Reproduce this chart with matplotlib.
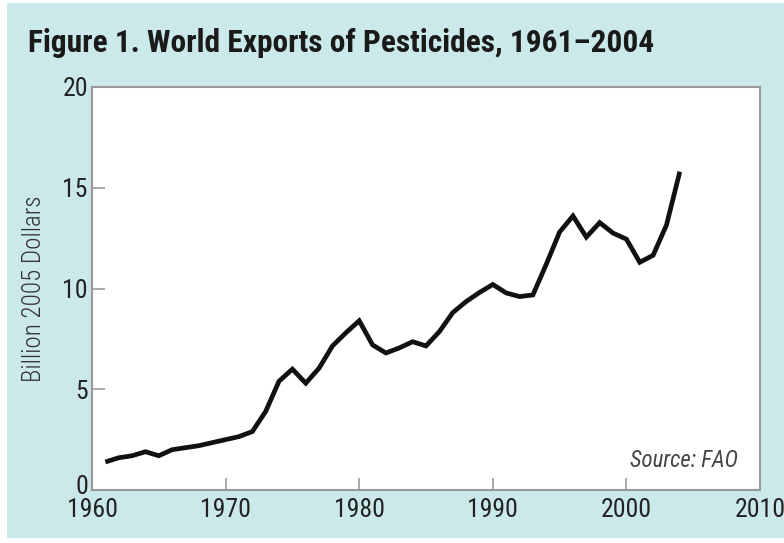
import numpy as np
import matplotlib.pyplot as plt
import matplotlib.transforms as mtransforms
from matplotlib.patches import Rectangle

years = list(range(1961, 2005))
exports = [1.39, 1.6, 1.7, 1.9, 1.7, 2.0, 2.1, 2.2, 2.35, 2.5,
           2.65, 2.9, 3.9, 5.4, 6.0, 5.3, 6.05, 7.15, 7.8, 8.4,
           7.2, 6.8, 7.05, 7.36, 7.15, 7.86, 8.8, 9.35, 9.8, 10.2,
           9.78, 9.6, 9.68, 11.2, 12.8, 13.6, 12.55, 13.27, 12.75, 12.45,
           11.3, 11.65, 13.15, 15.8]
xticks = [1960, 1970, 1980, 1990, 2000, 2010]
yticks = [0, 5, 10, 15, 20]

cond = ["Roboto Condensed", "DejaVu Sans"]
bg = "#cbe8eb"

fig = plt.figure(figsize=(7.84, 5.43), dpi=100)
fig.patch.set_facecolor("white")
fig.patches.append(Rectangle((7 / 784, 5 / 543), 1, 1 - 8 / 543,
                             transform=fig.transFigure, facecolor=bg,
                             edgecolor="none", zorder=-10))

ax = fig.add_axes([92 / 784, 53 / 543, 668 / 784, 403 / 543])
ax.plot(years, exports, color="#111111", linewidth=3.4,
        solid_joinstyle="miter", solid_capstyle="butt")

ax.set_xlim(1960, 2010)
ax.set_ylim(0, 20)
ax.set_xticks(xticks)
ax.set_yticks(yticks)
ax.set_xticklabels([str(t) for t in xticks], family=cond, fontsize=18.5,
                   color="#222222")
ax.set_yticklabels([str(t) for t in yticks], family=cond, fontsize=18.5,
                   color="#222222")
ax.tick_params(direction="in", length=9, width=1.2, color="#999999", pad=3)
ax.tick_params(axis="x", pad=6)
for s in ax.spines.values():
    s.set_color("#999999")
    s.set_linewidth(1.5)

# the zero label sits a little above its tick, clear of "1960"
zero = ax.get_yticklabels()[0]
zero.set_transform(zero.get_transform() +
                   mtransforms.ScaledTranslation(0, 6 / 100, fig.dpi_scale_trans))

ax.set_ylabel("Billion 2005 Dollars", family=cond, fontsize=18,
              fontweight="light", color="#333333", labelpad=12)
ax.text(0.967, 0.057, "Source: FAO", transform=ax.transAxes, ha="right",
        va="baseline", family=cond, fontsize=16.5, style="italic",
        color="#444444")

fig.text(28 / 784, 1 - 52 / 543, "Figure 1. World Exports of Pesticides, 1961\u20132004",
         family=cond, fontsize=22.6, fontweight="bold", color="#1a1a1a",
         va="baseline")

fig.savefig("out.png", dpi=100, facecolor=fig.get_facecolor())
